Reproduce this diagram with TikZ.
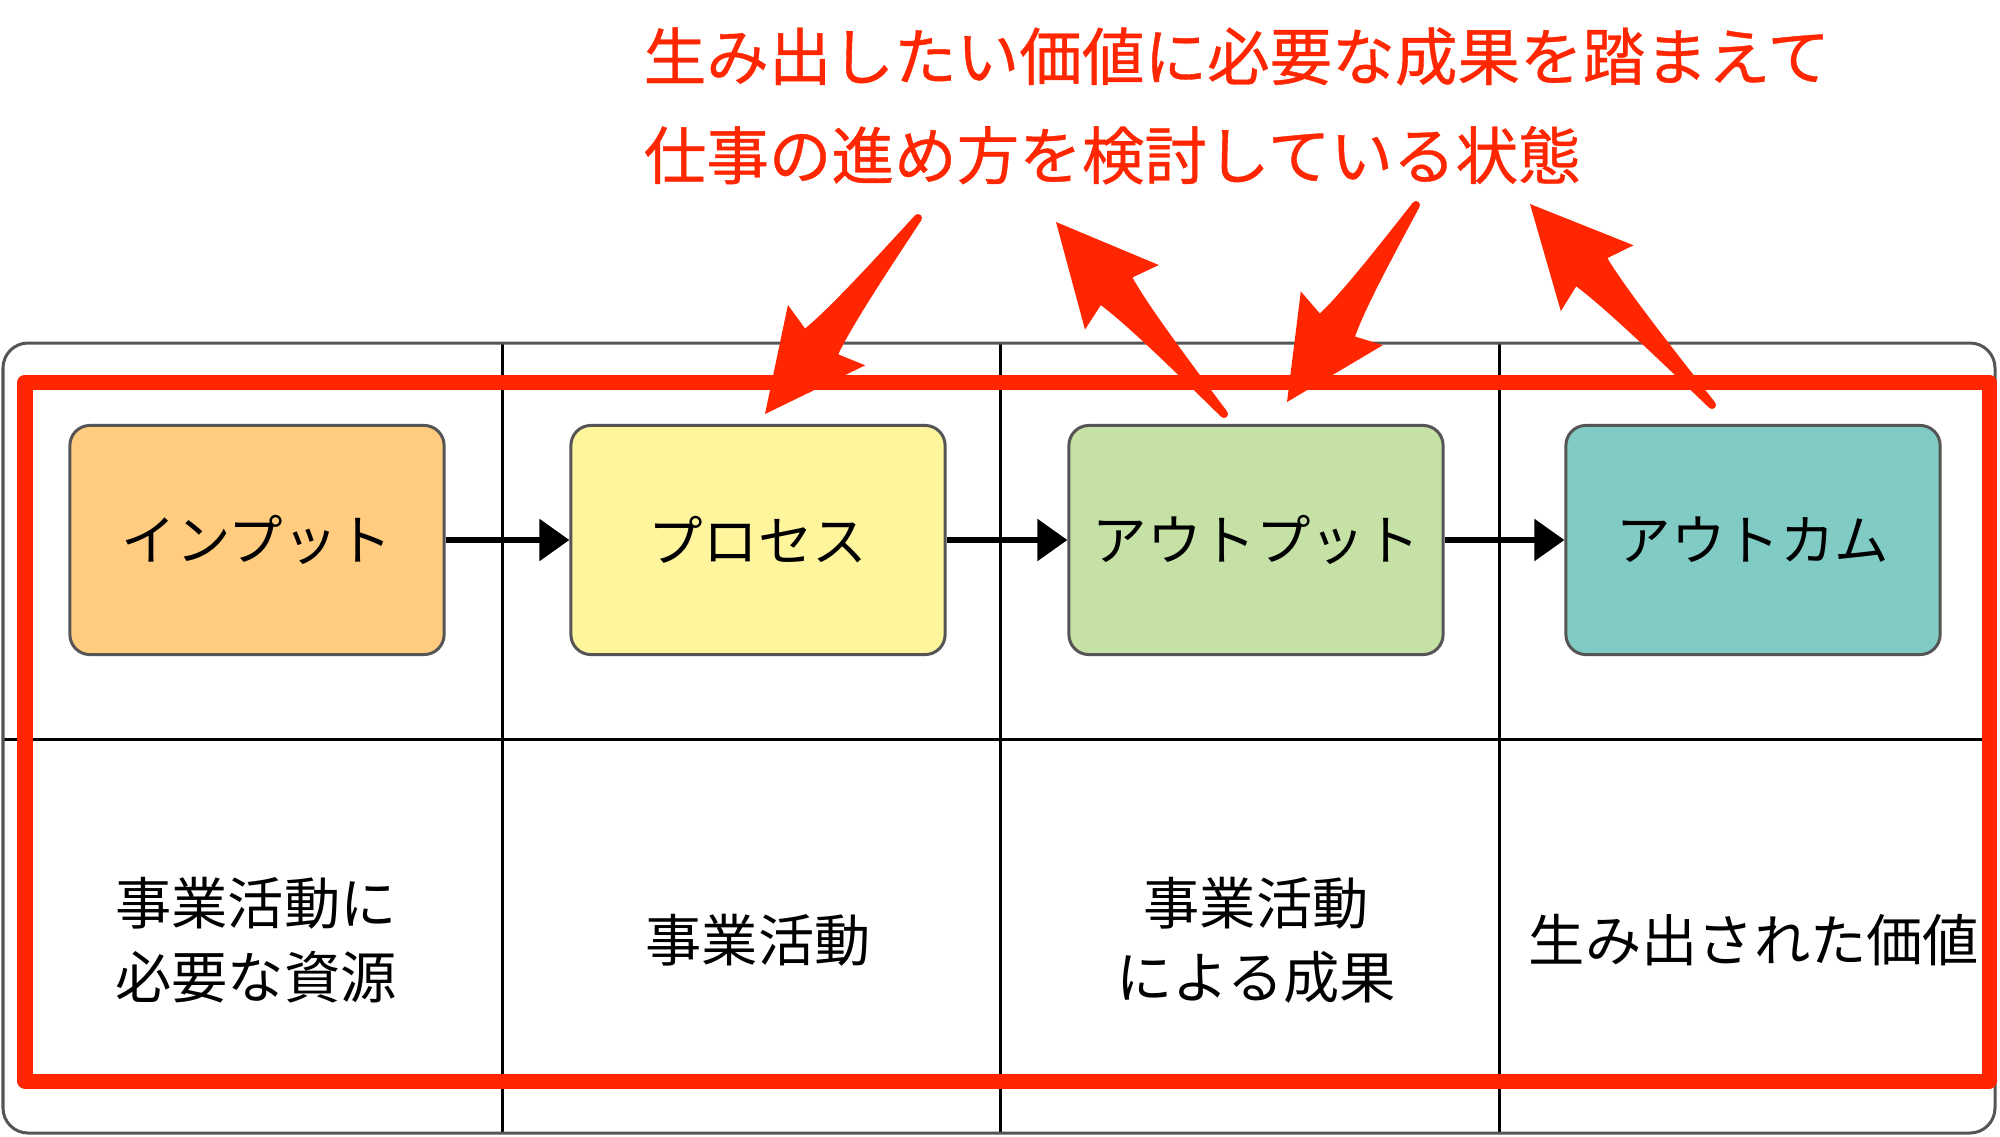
\documentclass[tikz,border=0pt]{standalone}
\usepackage{fontspec}
\setmainfont{Noto Sans CJK JP}
\newfontfamily\titlefont{Noto Sans CJK JP}[FakeBold=0.6]
\usetikzlibrary{arrows.meta,calc}
\definecolor{redc}{RGB}{255,38,0}
\definecolor{bordergray}{RGB}{85,85,85}
\definecolor{cinput}{RGB}{255,204,128}
\definecolor{cprocess}{RGB}{255,245,157}
\definecolor{coutput}{RGB}{197,225,165}
\definecolor{coutcome}{RGB}{128,203,196}
% #1 tail, #2 tip, #3 prefix for helper coordinates
\newcommand\skarrow[3]{%
  \coordinate (#3n) at ($(#2)!0.92cm!(#1)$);
  \coordinate (#3b) at ($(#2)!1.0cm!(#1)$);
  \coordinate (#3c) at ($(#1)!0.4!(#3n)$);
  \coordinate (#3d) at ($(#1)!0.8!(#3n)$);
  \fill[redc, line join=round]
    ($(#1)!0.04cm!90:(#2)$)
      .. controls ($(#3c)!0.09cm!90:(#2)$) and ($(#3d)!0.14cm!90:(#2)$) .. ($(#3n)!0.21cm!90:(#2)$)
      -- ($(#3b)!0.49cm!90:(#2)$) -- (#2) -- ($(#3b)!0.49cm!-90:(#2)$)
      -- ($(#3n)!0.21cm!-90:(#2)$)
      .. controls ($(#3d)!0.14cm!-90:(#2)$) and ($(#3c)!0.09cm!-90:(#2)$) .. ($(#1)!0.04cm!-90:(#2)$)
      -- cycle;
  \fill[redc] (#1) circle (0.04cm);
}
\begin{document}
\begin{tikzpicture}[x=0.01cm,y=-0.01cm,
  stagebox/.style={draw=bordergray, line width=0.03cm, rounded corners=0.2cm,
    minimum width=3.74cm, minimum height=2.29cm, inner sep=0,
    font=\fontsize{15.5pt}{18pt}\selectfont},
  flow/.style={line width=0.055cm, -{Triangle[length=0.3cm,width=0.41cm]}},
  cell/.style={align=center, inner sep=0, font=\fontsize{16pt}{21pt}\selectfont},
  grid/.style={black, line width=0.03cm},
  titletext/.style={anchor=base west, inner sep=0, text=redc,
    font=\titlefont\fontsize{17.8pt}{20pt}\selectfont}]
\useasboundingbox (0,0) rectangle (2000,1136);
\fill[white] (0,0) rectangle (2000,1136);

% table
\draw[grid] (3,739) -- (1995,739);
\foreach \x in {502,1000,1499} \draw[grid] (\x,343) -- (\x,1133);
\draw[bordergray, line width=0.03cm, rounded corners=0.25cm] (3,343) rectangle (1995,1133);

% stage boxes
\node[stagebox, fill=cinput]   (in)  at (257,540)  {インプット};
\node[stagebox, fill=cprocess] (pr)  at (758,540)  {プロセス};
\node[stagebox, fill=coutput]  (out) at (1256,540) {アウトプット};
\node[stagebox, fill=coutcome] (oc)  at (1753,540) {アウトカム};
\draw[flow] (in) -- (pr);
\draw[flow] (pr) -- (out);
\draw[flow] (out) -- (oc);

% descriptions
\node[cell] (t1) at (256,940)  {事業活動に\\必要な資源};
\node[cell] (t2) at (758,940)  {事業活動};
\node[cell] (t3) at (1256,940) {事業活動\\による成果};
\node[cell] (t4) at (1754,940) {生み出された価値};

% red frame
\draw[redc, line width=0.15cm, line join=round] (25,382) rectangle (1989,1081);

% title
\node[titletext] (title1) at (643,80)  {生み出したい価値に必要な成果を踏まえて};
\node[titletext] (title2) at (643,179) {仕事の進め方を検討している状態};

% red arrows
\coordinate (a1t) at (918,218);  \coordinate (a1p) at (765,414);
\coordinate (a2t) at (1224,414); \coordinate (a2p) at (1056,222);
\coordinate (a3t) at (1416,205); \coordinate (a3p) at (1287,402);
\coordinate (a4t) at (1712,405); \coordinate (a4p) at (1530,204);
\skarrow{a1t}{a1p}{A}
\skarrow{a2t}{a2p}{B}
\skarrow{a3t}{a3p}{C}
\skarrow{a4t}{a4p}{D}
\end{tikzpicture}
\end{document}
